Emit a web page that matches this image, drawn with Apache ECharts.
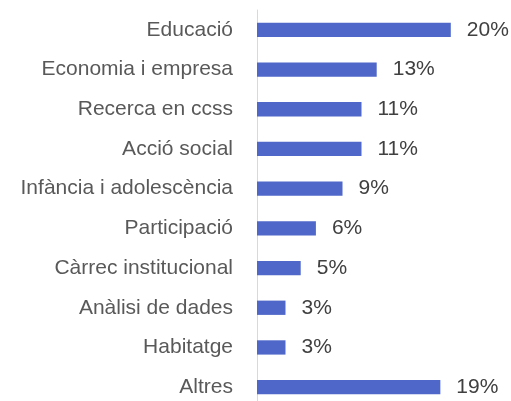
<!DOCTYPE html>
<html>
<head>
<meta charset="utf-8">
<script src="https://cdn.jsdelivr.net/npm/echarts@6/dist/echarts.min.js"></script>
<style>
  html, body { margin: 0; padding: 0; background: #fff; }
  #chart { width: 511px; height: 401px; }
</style>
</head>
<body>
<div id="chart"></div>
<script>
  // categories, top to bottom
  var categories = ['Educació', 'Economia i empresa', 'Recerca en ccss', 'Acció social',
    'Infància i adolescència', 'Participació', 'Càrrec institucional',
    'Anàlisi de dades', 'Habitatge', 'Altres'];
  // percentage values (shown rounded)
  var values = [20.4, 12.6, 11.0, 11.0, 9.0, 6.2, 4.6, 3.0, 3.0, 19.3];

  var font = "'Liberation Sans', Arial, sans-serif";

  var chart = echarts.init(document.getElementById('chart'));
  chart.setOption({
    animation: false,
    grid: {
      left: 257, right: 16.5, top: 10, height: 397,
      containLabel: false, outerBoundsMode: 'none'
    },
    xAxis: {
      type: 'value', min: 0, max: 25, show: false
    },
    yAxis: {
      type: 'category',
      inverse: true,
      data: categories,
      axisLine: { show: true, lineStyle: { color: '#d9d9d9', width: 1 } },
      axisTick: { show: false },
      axisLabel: { color: '#595959', fontSize: 21, fontFamily: font, margin: 24 }
    },
    series: [{
      type: 'bar',
      data: values,
      barCategoryGap: '64%',
      itemStyle: { color: '#4e67c8' },
      label: {
        show: true, position: 'right', distance: 16,
        color: '#404040', fontSize: 21, fontFamily: font,
        formatter: function (p) { return Math.round(p.value) + '%'; }
      }
    }]
  });
</script>
</body>
</html>
